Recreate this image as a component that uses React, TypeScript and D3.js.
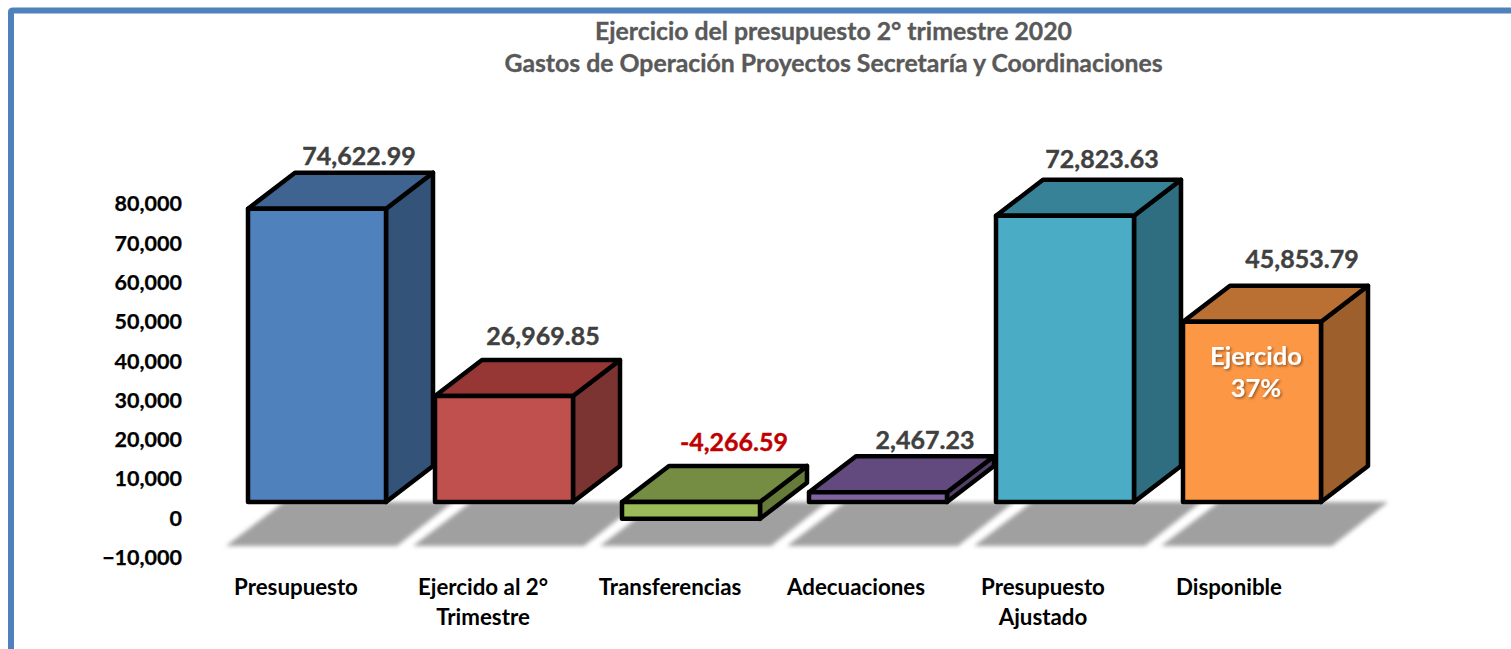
import React from 'react';
import * as d3 from 'd3';

const categories = ['Presupuesto', 'Ejercido al 2° Trimestre', 'Transferencias', 'Adecuaciones', 'Presupuesto Ajustado', 'Disponible'];
const values = [74622.99, 26969.85, -4266.59, 2467.23, 72823.63, 45853.79];
const valueLabels = ['74,622.99', '26,969.85', '-4,266.59', '2,467.23', '72,823.63', '45,853.79'];
const yTicks = [-10000, 0, 10000, 20000, 30000, 40000, 50000, 60000, 70000, 80000];
const titleLines = ['Ejercicio del presupuesto 2° trimestre 2020', 'Gastos de Operación Proyectos Secretaría y Coordinaciones'];
const categoryLines = [['Presupuesto'], ['Ejercido al 2°', 'Trimestre'], ['Transferencias'], ['Adecuaciones'], ['Presupuesto', 'Ajustado'], ['Disponible']];

const frontColors = ['#4f81bd', '#c0504d', '#9bbb59', '#8064a2', '#4bacc6', '#fb9745'];
const topColors = ['#3f6491', '#963735', '#758c43', '#624a7e', '#388297', '#bb7033'];
const sideColors = ['#335379', '#7c3432', '#667a3a', '#534069', '#2e6e80', '#9d5f2b'];

// label tweaks, the original labels were placed by hand
const labelDx = [42, 39, 43, 47, 37, 50];
const labelDy = [-8, -15, -15, -7, -12, -18];
const catDx = [-21, -21, -21, -22, -22, -23];

const font = 'Lato, Carlito, sans-serif';
const depthX = 47;
const depthY = -36;
const axisShift = 16; // tick labels sit a bit below the front plane

const x = d3.scaleBand<string>().domain(categories).range([248, 1321]).paddingInner(49 / 187).paddingOuter(0);
const y = d3.scaleLinear().domain([-10000, 80000]).range([541.3, 187.6]);

const poly = (pts: [number, number][]) => (d3.line()(pts) as string) + 'Z';

export default function App() {
  const bw = x.bandwidth();
  const base = y(0);
  return (
    <svg width={1511} height={649} style={{ position: 'absolute', left: 0, top: 0, display: 'block', background: '#fff' }} fontFamily={font}>
      <defs>
        <filter id="blur" x="-10%" y="-20%" width="120%" height="140%">
          <feGaussianBlur stdDeviation="1.9" />
        </filter>
        <filter id="txt" x="-10%" y="-20%" width="125%" height="150%">
          <feDropShadow dx="1.5" dy="1.5" stdDeviation="1" floodColor="#000" floodOpacity="0.4" />
        </filter>
      </defs>

      <path d="M11,649 V12 Q11,10.5 13,10.5 H1511" fill="none" stroke="#4f81bd" strokeWidth={6} />

      {titleLines.map((t, i) => (
        <text key={t} x={833.5} y={40 + i * 32} textAnchor="middle" fontSize={24.8} fontWeight={700} fill="#595959" stroke="#595959" strokeWidth={0.35}>{t}</text>
      ))}

      {yTicks.map(t => (
        <text key={t} x={182} y={y(t) + axisShift} dy="0.36em" textAnchor="end" fontSize={21.5} fontWeight={700} fill="#000" stroke="#000" strokeWidth={0.25}>
          {d3.format(',')(t)}
        </text>
      ))}

      <g filter="url(#blur)" fill="#a0a0a0">
        {categories.map(c => {
          const x0 = x(c) as number;
          return <path key={c} d={poly([[x0 + 36, base], [x0 + 205, base], [x0 + 149, base + 44], [x0 - 22, base + 44]])} />;
        })}
      </g>

      {categories.map((c, i) => {
        const x0 = x(c) as number;
        const x1 = x0 + bw;
        const top = Math.min(y(values[i]), base);
        const bottom = Math.max(y(values[i]), base);
        return (
          <g key={c} stroke="#000" strokeWidth={4.5} strokeLinejoin="round">
            <path d={poly([[x1, top], [x1 + depthX, top + depthY], [x1 + depthX, bottom + depthY], [x1, bottom]])} fill={sideColors[i]} />
            <path d={poly([[x0, top], [x0 + depthX, top + depthY], [x1 + depthX, top + depthY], [x1, top]])} fill={topColors[i]} />
            <rect x={x0} y={top} width={bw} height={bottom - top} fill={frontColors[i]} />
          </g>
        );
      })}

      {categories.map((c, i) => {
        const col = values[i] < 0 ? '#c00000' : '#404040';
        return (
          <text key={c} x={(x(c) as number) + bw / 2 + labelDx[i]} y={Math.min(y(values[i]), base) + depthY + labelDy[i]}
            textAnchor="middle" fontSize={25} fontWeight={700} fill={col} stroke={col} strokeWidth={0.4}>
            {valueLabels[i]}
          </text>
        );
      })}

      {categories.map((c, i) => (
        <text key={c} textAnchor="middle" fontSize={22.3} fontWeight={700} fill="#000">
          {categoryLines[i].map((line, j) => (
            <tspan key={line} x={(x(c) as number) + bw / 2 + catDx[i]} y={595 + j * 30}>{line}</tspan>
          ))}
        </text>
      ))}

      <g textAnchor="middle" fontSize={25.5} fontWeight={700} fill="#fff" filter="url(#txt)">
        <text x={1256} y={365}>Ejercido</text>
        <text x={1256} y={397}>37%</text>
      </g>
    </svg>
  );
}
